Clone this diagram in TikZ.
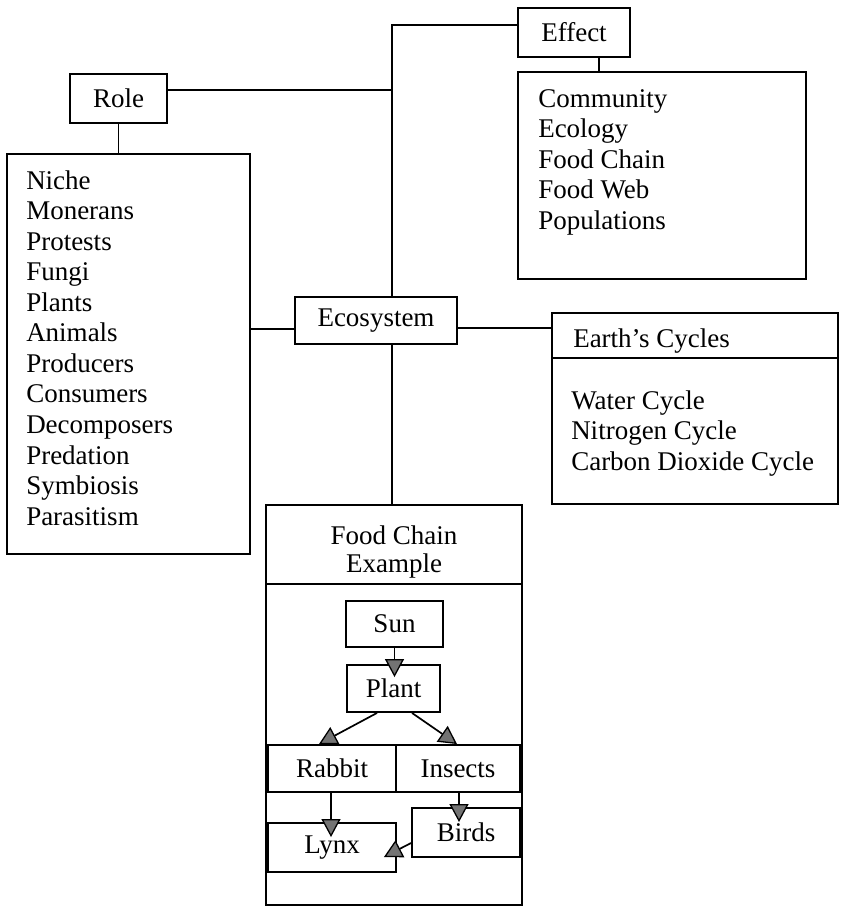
\documentclass[tikz,border=0pt]{standalone}
\usepackage{fontspec}
\setmainfont{Liberation Serif}
\usetikzlibrary{arrows.meta,calc}
\begin{document}
\begin{tikzpicture}[x=1pt,y=-1pt,
  every node/.style={font=\fontsize{27}{30.5}\selectfont},
  box/.style={draw,line width=1.9pt,inner sep=0pt},
  ln/.style={line width=1.9pt},
  txt/.style={anchor=base west,inner sep=0pt},
  arr/.style={line width=1.7pt,-{Triangle[length=18pt,width=19pt,fill=black!55,line width=1.3pt]}}]
\useasboundingbox (0,0) rectangle (843,908);
% boxes
\node[box,minimum width=97pt,minimum height=49pt] (role) at (118.5,98.5) {Role};
\node[box,minimum width=243pt,minimum height=400pt] (rlist) at (128.5,354) {};
\node[box,minimum width=112pt,minimum height=49pt] (effect) at (574,32.5) {Effect};
\node[box,minimum width=288pt,minimum height=207pt] (elist) at (662,175.5) {};
\node[box,minimum width=162pt,minimum height=47pt] (eco) at (376,320.5) {Ecosystem};
\node[box,minimum width=286pt,minimum height=191pt] (earth) at (695,408.5) {};
\node[box,minimum width=256pt,minimum height=400pt] (fc) at (394,705) {};
\node[box,minimum width=97pt,minimum height=46pt] (sun) at (394.5,624) {Sun};
\node[box,minimum width=93pt,minimum height=47pt] (plant) at (393.5,688.5) {Plant};
\node[box,minimum width=128pt,minimum height=47pt] (rabbit) at (332,768.5) {Rabbit};
\node[box,minimum width=124pt,minimum height=47pt] (insects) at (458,768.5) {Insects};
\node[box,minimum width=128pt,minimum height=49pt] (lynx) at (332,847.5) {Lynx};
\node[box,minimum width=108pt,minimum height=49pt] (birds) at (466,832.5) {Birds};
% texts
\foreach \t [count=\i from 0] in {Niche,Monerans,Protests,Fungi,Plants,Animals,Producers,Consumers,Decomposers,Predation,Symbiosis,Parasitism}
  \node[txt] (r\i) at ($(rlist.north west)+(20,36+30.55*\i)$) {\t};
\foreach \t [count=\i from 0] in {Community,Ecology,Food Chain,Food Web,Populations}
  \node[txt] (e\i) at ($(elist.north west)+(21,36+30.5*\i)$) {\t};
\node[txt] (etitle) at ($(earth.north west)+(22,35)$) {Earth’s Cycles};
\foreach \t [count=\i from 0] in {Water Cycle,Nitrogen Cycle,Carbon Dioxide Cycle}
  \node[txt] (c\i) at ($(earth.north west)+(20,97+30.5*\i)$) {\t};
\node[align=center,inner sep=0pt,font=\fontsize{27}{28}\selectfont] (fctitle) at ($(fc.north)+(0,48)$) {Food Chain\\Example};
% dividers
\draw[ln] ($(earth.north west)+(0,46)$) -- ($(earth.north east)+(0,46)$);
\draw[ln] ($(fc.north west)+(0,80)$) -- ($(fc.north east)+(0,80)$);
% connectors
\coordinate (vx) at ($(eco.north)+(16,0)$);
\coordinate (vxb) at ($(eco.south)+(16,0)$);
\coordinate (et) at ($(effect.west)+(0,-7.5)$);
\coordinate (rj) at ($(role.east)+(0,-8.5)$);
\draw[ln] (vx) |- (et);
\draw[ln] (rj) -- (rj -| vx);
\draw[ln] (vxb) -- (vxb |- fc.north);
\draw[ln] (role.south) -- (role.south |- rlist.north);
\coordinate (es) at ($(effect.south)+(25,0)$);
\draw[ln] (es) -- (es |- elist.north);
\coordinate (el) at ($(eco.west)+(0,8.5)$);
\draw[ln] (el) -- (el -| rlist.east);
\coordinate (er) at ($(eco.east)+(0,7.5)$);
\draw[ln] (er) -- (er -| earth.west);
% arrows
\draw[arr] (sun.south) -- ($(sun.south |- plant.north)+(0,13)$);
\draw[arr] ($(plant.south)+(-16.5,0)$) -- ($(rabbit.north)+(-13,0)$);
\draw[arr] ($(plant.south)+(18.5,0)$) -- ($(insects.north)+(-1,0)$);
\draw[arr] ($(rabbit.south)+(-1,0)$) -- ($(lynx.north)+(-1,15)$);
\coordinate (is) at ($(insects.south)+(1,0)$);
\draw[arr] (is) -- ($(is |- birds.north)+(0,15)$);
\draw[arr] ($(birds.west)+(0,10.5)$) -- ($(lynx.east)+(-13,9.5)$);
\end{tikzpicture}
\end{document}
